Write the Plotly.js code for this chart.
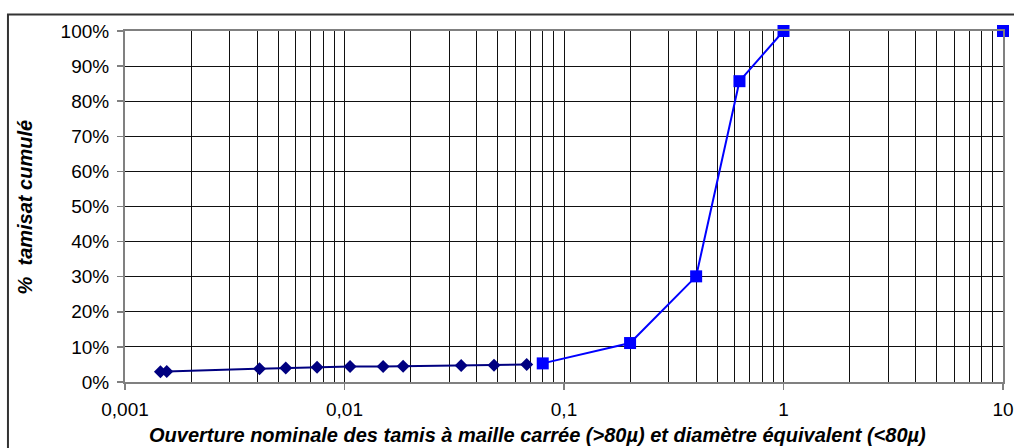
<!DOCTYPE html>
<html>
<head>
<meta charset="utf-8">
<script src="https://cdn.plot.ly/plotly-3.0.1.min.js"></script>
<style>html,body{margin:0;padding:0;background:#fff;}#chart{width:1014px;height:448px;}</style>
</head>
<body>
<div id="chart"></div>
<script>
// Sedimentometry (fine fraction, < 80µ)
var fineSize = [0.00145, 0.00155, 0.0041, 0.0054, 0.0075, 0.0106, 0.015, 0.0185, 0.034, 0.048, 0.0676];
var finePassing = [2.9, 3.0, 3.8, 4.0, 4.2, 4.4, 4.4, 4.5, 4.7, 4.8, 5.0];
// Sieving (> 80µ)
var sieveSize = [0.08, 0.2, 0.4, 0.63, 1, null, 10];
var sievePassing = [5.3, 11.1, 30.1, 85.7, 100, null, 100];

var xMajor = [0.001, 0.01, 0.1, 1, 10];
var xMajorText = ["0,001", "0,01", "0,1", "1", "10"];
var yTicks = [0, 10, 20, 30, 40, 50, 60, 70, 80, 90, 100];
var yTickText = ["0%", "10%", "20%", "30%", "40%", "50%", "60%", "70%", "80%", "90%", "100%"];

var xMinor = [];
for (var d = 0; d < 4; d++) {
  for (var m = 2; m <= 9; m++) xMinor.push(m * xMajor[d]);
}

var fontFam = 'Arial, "Liberation Sans", Helvetica, sans-serif';

var traces = [
  {
    x: fineSize, y: finePassing, type: 'scatter', mode: 'lines+markers',
    line: {color: '#000080', width: 2},
    marker: {symbol: 'diamond', size: 10, color: '#000080'},
    cliponaxis: false, showlegend: false, hoverinfo: 'x+y'
  },
  {
    x: sieveSize, y: sievePassing, type: 'scatter', mode: 'lines+markers',
    connectgaps: false,
    line: {color: '#0000FF', width: 2},
    marker: {symbol: 'square', size: 12, color: '#0000FF'},
    cliponaxis: false, showlegend: false, hoverinfo: 'x+y'
  }
];

var layout = {
  width: 1014, height: 448,
  margin: {l: 125, r: 11, t: 30.5, b: 65.5},
  paper_bgcolor: '#ffffff', plot_bgcolor: '#ffffff',
  font: {family: fontFam, size: 19, color: '#000'},
  xaxis: {
    type: 'log', range: [-3, 1],
    tickmode: 'array', tickvals: xMajor, ticktext: xMajorText,
    ticks: 'outside', ticklen: 6, tickwidth: 1.5, tickcolor: '#808080',
    ticklabelstandoff: 3,
    showgrid: true, gridcolor: '#111111', gridwidth: 1,
    minor: {tickmode: 'array', tickvals: xMinor, showgrid: true, gridcolor: '#111111', gridwidth: 1, ticks: ''},
    showline: true, linecolor: '#808080', linewidth: 2, mirror: true,
    zeroline: false,
    tickfont: {family: fontFam, size: 19, color: '#000'},
    fixedrange: true
  },
  yaxis: {
    range: [0, 100],
    tickmode: 'array', tickvals: yTicks, ticktext: yTickText,
    ticks: 'outside', ticklen: 6, tickwidth: 1.5, tickcolor: '#808080',
    ticklabelstandoff: 4,
    showgrid: true, gridcolor: '#111111', gridwidth: 1,
    showline: true, linecolor: '#808080', linewidth: 2, mirror: true,
    zeroline: false,
    tickfont: {family: fontFam, size: 19, color: '#000'},
    fixedrange: true
  },
  annotations: [
    {
      text: 'Ouverture nominale des tamis à maille carrée (>80µ) et diamètre équivalent (<80µ)',
      xref: 'paper', yref: 'paper', x: 0.470, y: -0.152, yanchor: 'middle', xanchor: 'center',
      showarrow: false, font: {family: fontFam, size: 20, color: '#000', weight: 'bold', style: 'italic'}
    },
    {
      text: '%  tamisat cumulé',
      xref: 'paper', yref: 'paper', x: -0.114, y: 0.5, xanchor: 'center', yanchor: 'middle',
      textangle: -90, showarrow: false,
      font: {family: fontFam, size: 20, color: '#000', weight: 'bold', style: 'italic'}
    }
  ],
  shapes: [
    {type: 'rect', xref: 'paper', yref: 'paper', x0: -0.1333, x1: 1.2, y0: -0.4, y1: 1.0469,
     line: {color: '#333333', width: 2}, fillcolor: 'rgba(0,0,0,0)', layer: 'below'}
  ]
};

Plotly.newPlot('chart', traces, layout, {displayModeBar: false, staticPlot: true});
</script>
</body>
</html>
